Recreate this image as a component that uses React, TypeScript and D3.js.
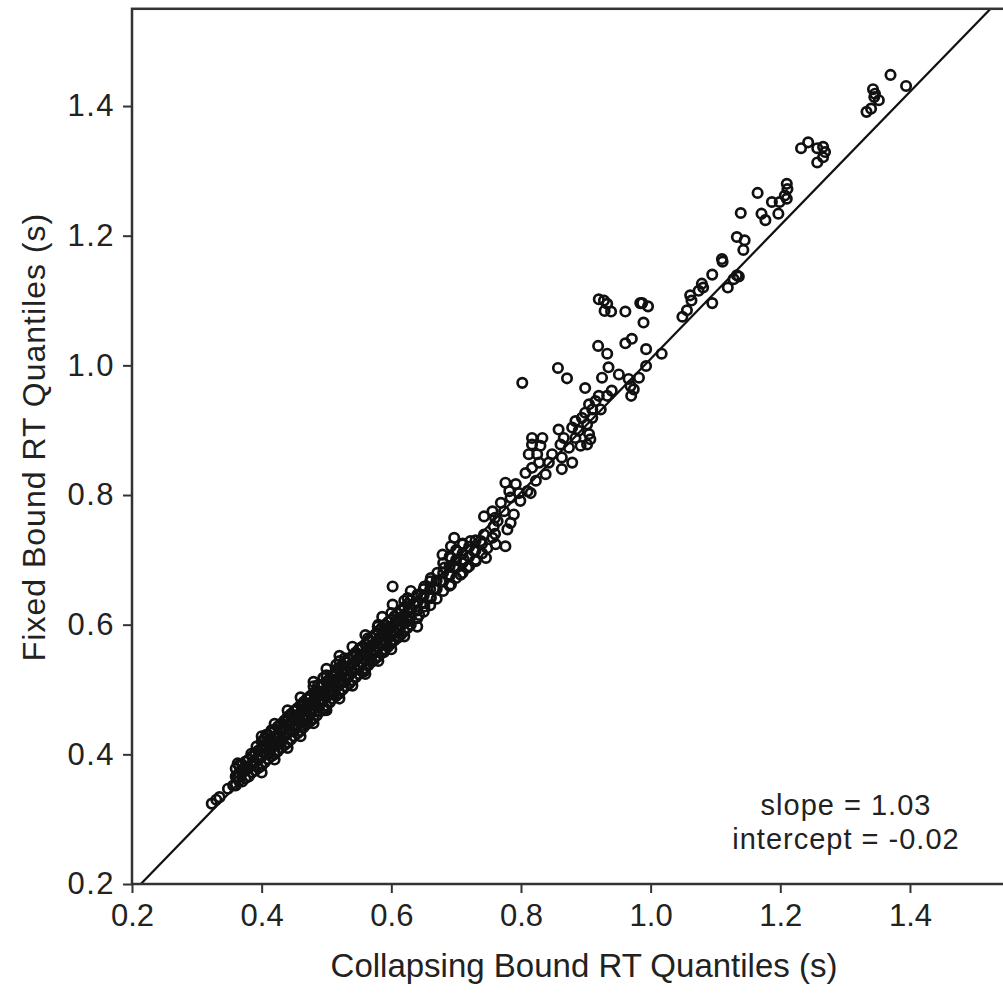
import React, { useRef, useEffect } from 'react';
import * as d3 from 'd3';

// [collapsing bound quantile, fixed bound quantile]
const lowBand: [number, number][] = [
  [0.323, 0.324], [0.33, 0.33], [0.335, 0.334], [0.348, 0.347], [0.356, 0.352],
  [0.363, 0.365], [0.363, 0.386], [0.371, 0.376], [0.379, 0.381], [0.384, 0.401],
  [0.387, 0.389], [0.394, 0.396], [0.402, 0.409], [0.42, 0.404], [0.415, 0.437],
  [0.412, 0.42], [0.425, 0.427], [0.433, 0.44], [0.438, 0.45], [0.446, 0.461],
  [0.453, 0.468], [0.463, 0.476], [0.474, 0.486], [0.484, 0.497], [0.494, 0.505],
  [0.497, 0.468], [0.407, 0.43], [0.392, 0.412], [0.443, 0.445], [0.458, 0.455],
  [0.469, 0.466], [0.479, 0.476], [0.489, 0.484], [0.505, 0.492], [0.51, 0.507],
];

const bandEdges: [number, number][] = [
  [0.40, 0.372], [0.40, 0.428], [0.42, 0.392], [0.42, 0.447], [0.44, 0.41], [0.44, 0.468],
  [0.46, 0.428], [0.46, 0.488], [0.48, 0.448], [0.48, 0.512], [0.50, 0.468], [0.50, 0.532],
  [0.52, 0.486], [0.52, 0.552], [0.54, 0.506], [0.54, 0.566], [0.56, 0.524], [0.56, 0.584],
  [0.58, 0.544], [0.58, 0.60], [0.60, 0.562], [0.60, 0.618], [0.62, 0.582], [0.62, 0.637],
];

const denseBand: [number, number][] = [
  [0.36, 0.352], [0.36, 0.366], [0.36, 0.378],
  [0.365, 0.359], [0.365, 0.371], [0.365, 0.383],
  [0.37, 0.358], [0.37, 0.372], [0.37, 0.384],
  [0.375, 0.363], [0.375, 0.377], [0.375, 0.389],
  [0.38, 0.366], [0.38, 0.379], [0.38, 0.392],
  [0.385, 0.372], [0.385, 0.384], [0.385, 0.397],
  [0.39, 0.375], [0.39, 0.388], [0.39, 0.402],
  [0.395, 0.379], [0.395, 0.392], [0.395, 0.406],
  [0.40, 0.382], [0.40, 0.396], [0.40, 0.41], [0.40, 0.42],
  [0.405, 0.388], [0.405, 0.401], [0.405, 0.414], [0.405, 0.425],
  [0.41, 0.393], [0.41, 0.405], [0.41, 0.418], [0.41, 0.43],
  [0.415, 0.397], [0.415, 0.41], [0.415, 0.422], [0.415, 0.434],
  [0.42, 0.40], [0.42, 0.414], [0.42, 0.426], [0.42, 0.438],
  [0.425, 0.405], [0.425, 0.418], [0.425, 0.431], [0.425, 0.443],
  [0.43, 0.41], [0.43, 0.423], [0.43, 0.436], [0.43, 0.447],
  [0.435, 0.414], [0.435, 0.428], [0.435, 0.44], [0.435, 0.452],
  [0.44, 0.418], [0.44, 0.432], [0.44, 0.445], [0.44, 0.458],
  [0.445, 0.423], [0.445, 0.436], [0.445, 0.45], [0.445, 0.462],
  [0.45, 0.428], [0.45, 0.44], [0.45, 0.454], [0.45, 0.467],
  [0.455, 0.432], [0.455, 0.445], [0.455, 0.458], [0.455, 0.471],
  [0.46, 0.436], [0.46, 0.45], [0.46, 0.463], [0.46, 0.476],
  [0.465, 0.442], [0.465, 0.455], [0.465, 0.468], [0.465, 0.481],
  [0.47, 0.447], [0.47, 0.46], [0.47, 0.472], [0.47, 0.486],
  [0.475, 0.451], [0.475, 0.464], [0.475, 0.477], [0.475, 0.49],
  [0.48, 0.455], [0.48, 0.47], [0.48, 0.483], [0.48, 0.495], [0.48, 0.505],
  [0.485, 0.46], [0.485, 0.474], [0.485, 0.487], [0.485, 0.499],
  [0.49, 0.466], [0.49, 0.478], [0.49, 0.492], [0.49, 0.504],
  [0.495, 0.47], [0.495, 0.483], [0.495, 0.496], [0.495, 0.508], [0.495, 0.518],
  [0.50, 0.475], [0.50, 0.489], [0.50, 0.50], [0.50, 0.512], [0.50, 0.522],
  [0.505, 0.48], [0.505, 0.493], [0.505, 0.505], [0.505, 0.517],
  [0.51, 0.486], [0.51, 0.498], [0.51, 0.51], [0.51, 0.522],
  [0.515, 0.49], [0.515, 0.503], [0.515, 0.515], [0.515, 0.527], [0.515, 0.538],
  [0.52, 0.494], [0.52, 0.507], [0.52, 0.52], [0.52, 0.533], [0.52, 0.544],
  [0.525, 0.50], [0.525, 0.512], [0.525, 0.525], [0.525, 0.537],
  [0.53, 0.505], [0.53, 0.518], [0.53, 0.53], [0.53, 0.542],
  [0.535, 0.509], [0.535, 0.522], [0.535, 0.535], [0.535, 0.547],
  [0.54, 0.514], [0.54, 0.527], [0.54, 0.54], [0.54, 0.552],
  [0.545, 0.519], [0.545, 0.531], [0.545, 0.544], [0.545, 0.557],
  [0.55, 0.524], [0.55, 0.536], [0.55, 0.549], [0.55, 0.562],
  [0.555, 0.528], [0.555, 0.541], [0.555, 0.553], [0.555, 0.566],
  [0.56, 0.532], [0.56, 0.546], [0.56, 0.558], [0.56, 0.57],
  [0.565, 0.538], [0.565, 0.55], [0.565, 0.562], [0.565, 0.575],
  [0.57, 0.543], [0.57, 0.555], [0.57, 0.567], [0.57, 0.58],
  [0.575, 0.547], [0.575, 0.56], [0.575, 0.572], [0.575, 0.585],
  [0.58, 0.551], [0.58, 0.565], [0.58, 0.577], [0.58, 0.59],
  [0.585, 0.556], [0.585, 0.569], [0.585, 0.582], [0.585, 0.595],
  [0.59, 0.562], [0.59, 0.574], [0.59, 0.587], [0.59, 0.60],
  [0.595, 0.566], [0.595, 0.579], [0.595, 0.591], [0.595, 0.604],
  [0.60, 0.571], [0.60, 0.584], [0.60, 0.596], [0.60, 0.608],
  [0.605, 0.576], [0.605, 0.589], [0.605, 0.601], [0.605, 0.613],
  [0.61, 0.58], [0.61, 0.594], [0.61, 0.606], [0.61, 0.617],
  [0.615, 0.585], [0.615, 0.598], [0.615, 0.61], [0.615, 0.622],
  [0.62, 0.59], [0.62, 0.603], [0.62, 0.615], [0.62, 0.627],
  [0.625, 0.595], [0.625, 0.607], [0.625, 0.62], [0.625, 0.632],
  [0.63, 0.60], [0.63, 0.612], [0.63, 0.625], [0.63, 0.638],
  [0.64, 0.61], [0.64, 0.622], [0.64, 0.634], [0.64, 0.646],
  [0.65, 0.62], [0.65, 0.633], [0.65, 0.645], [0.65, 0.655],
  [0.66, 0.63], [0.66, 0.642], [0.66, 0.655], [0.66, 0.667],
  [0.67, 0.64], [0.67, 0.655], [0.67, 0.668],
  [0.68, 0.652], [0.68, 0.667], [0.68, 0.68], [0.68, 0.695],
  [0.69, 0.66], [0.69, 0.675], [0.69, 0.69], [0.69, 0.705],
  [0.70, 0.672], [0.70, 0.688], [0.70, 0.70], [0.70, 0.715],
  [0.71, 0.68], [0.71, 0.695], [0.71, 0.71], [0.71, 0.725],
  [0.72, 0.69], [0.72, 0.705], [0.72, 0.72],
  [0.73, 0.70], [0.73, 0.715], [0.73, 0.73],
  [0.74, 0.71], [0.74, 0.725], [0.76, 0.74], [0.76, 0.765],
];

const midBand: [number, number][] = [
  [0.602, 0.659], [0.602, 0.631], [0.586, 0.612], [0.643, 0.615], [0.64, 0.597],
  [0.612, 0.582], [0.625, 0.605], [0.579, 0.597], [0.594, 0.595], [0.61, 0.60],
  [0.564, 0.579], [0.584, 0.582], [0.599, 0.574], [0.553, 0.564], [0.574, 0.561],
  [0.589, 0.558], [0.528, 0.548], [0.546, 0.551], [0.566, 0.546], [0.558, 0.528],
  [0.538, 0.538], [0.518, 0.533], [0.533, 0.52], [0.50, 0.52], [0.512, 0.52],
  [0.523, 0.51], [0.505, 0.505], [0.487, 0.507], [0.482, 0.494], [0.497, 0.492],
  [0.512, 0.494], [0.471, 0.486], [0.489, 0.481], [0.497, 0.471], [0.466, 0.471],
  [0.482, 0.466], [0.456, 0.461], [0.471, 0.455], [0.461, 0.445],
  [0.815, 0.803], [0.769, 0.788], [0.784, 0.796], [0.799, 0.791], [0.756, 0.775],
  [0.743, 0.767], [0.774, 0.775], [0.789, 0.77], [0.764, 0.76], [0.784, 0.757],
  [0.779, 0.747], [0.758, 0.752], [0.756, 0.734], [0.776, 0.721], [0.761, 0.724],
  [0.743, 0.739], [0.738, 0.729], [0.722, 0.729], [0.697, 0.734], [0.71, 0.724],
  [0.692, 0.721], [0.748, 0.718], [0.728, 0.713], [0.702, 0.713], [0.679, 0.708],
  [0.692, 0.703], [0.712, 0.70], [0.73, 0.698], [0.746, 0.703], [0.717, 0.688],
  [0.697, 0.69], [0.682, 0.688], [0.671, 0.68], [0.689, 0.677], [0.707, 0.677],
  [0.692, 0.662], [0.676, 0.667], [0.661, 0.672], [0.666, 0.656], [0.651, 0.659],
  [0.646, 0.646], [0.661, 0.641], [0.63, 0.652], [0.625, 0.641], [0.635, 0.631],
  [0.651, 0.628], [0.62, 0.626],
];

const upperBand: [number, number][] = [
  [0.92, 1.102], [0.928, 1.10], [0.933, 1.095], [0.929, 1.084], [0.939, 1.083],
  [0.961, 1.083], [0.984, 1.096], [0.919, 1.03], [0.933, 1.018], [0.961, 1.034],
  [0.971, 1.041], [0.857, 0.996], [0.871, 0.98], [0.802, 0.973], [0.899, 0.965],
  [0.935, 0.997], [0.925, 0.981], [0.951, 0.986], [0.966, 0.979], [0.982, 0.981],
  [0.969, 0.968], [0.974, 0.963], [0.97, 0.953], [0.94, 0.961], [0.933, 0.953],
  [0.92, 0.953], [0.915, 0.945], [0.905, 0.94], [0.91, 0.932], [0.923, 0.932],
  [0.899, 0.927], [0.894, 0.919], [0.91, 0.919], [0.884, 0.914], [0.902, 0.909],
  [0.858, 0.901], [0.879, 0.904], [0.889, 0.899], [0.905, 0.894], [0.907, 0.886],
  [0.902, 0.878], [0.892, 0.876], [0.884, 0.888], [0.866, 0.888], [0.861, 0.878],
  [0.874, 0.873], [0.817, 0.888], [0.833, 0.888], [0.817, 0.878], [0.83, 0.876],
  [0.812, 0.863], [0.825, 0.863], [0.848, 0.863], [0.863, 0.858], [0.879, 0.85],
  [0.843, 0.85], [0.828, 0.85], [0.863, 0.84], [0.817, 0.842], [0.807, 0.834],
  [0.838, 0.832], [0.823, 0.822], [0.776, 0.819], [0.792, 0.817], [0.782, 0.806],
  [0.797, 0.803], [0.81, 0.806],
];

const topBand: [number, number][] = [
  [1.232, 1.335], [1.243, 1.344], [1.257, 1.335], [1.266, 1.337], [1.269, 1.329],
  [1.266, 1.321], [1.257, 1.313], [1.21, 1.28], [1.211, 1.272], [1.207, 1.262],
  [1.21, 1.257], [1.199, 1.252], [1.187, 1.252], [1.197, 1.234], [1.165, 1.266],
  [1.171, 1.234], [1.177, 1.224], [1.139, 1.235], [1.133, 1.198], [1.145, 1.193],
  [1.143, 1.178], [1.11, 1.164], [1.111, 1.16], [1.133, 1.139], [1.136, 1.137],
  [1.128, 1.133], [1.119, 1.12], [1.095, 1.14], [1.095, 1.096], [1.079, 1.126],
  [1.081, 1.12], [1.074, 1.115], [1.061, 1.108], [1.063, 1.10], [1.056, 1.085],
  [1.049, 1.075], [0.987, 1.096], [0.996, 1.091], [0.989, 1.066], [0.993, 1.025],
  [1.017, 1.018], [0.993, 0.999],
  [1.37, 1.448], [1.394, 1.431], [1.343, 1.426], [1.346, 1.419], [1.345, 1.414],
  [1.352, 1.409], [1.34, 1.396], [1.333, 1.391],
];

const slope = 1.03;
const intercept = -0.02;
const ticks = [0.2, 0.4, 0.6, 0.8, 1.0, 1.2, 1.4];
const domain: [number, number] = [0.2, 1.55];

const App = () => {
  const svgRef = useRef<SVGSVGElement>(null);

  useEffect(() => {
    const width = 1003;
    const height = 998;
    const font = '"Liberation Sans", Arial, sans-serif';
    const ink = '#222';

    const x = d3.scaleLinear().domain(domain).range([132, 132 + 1.35 * 648.3]);
    const y = d3.scaleLinear().domain(domain).range([884, 884 - 1.35 * 648.3]);

    const svg = d3.select(svgRef.current);
    svg.selectAll('*').remove();
    svg.attr('width', width).attr('height', height).attr('viewBox', [0, 0, width, height]);

    svg.append('rect').attr('width', width).attr('height', height).attr('fill', 'white');

    const [x0, x1] = x.range();
    const [y0, y1] = y.range();

    svg.append('clipPath').attr('id', 'plot-clip')
      .append('rect').attr('x', x0).attr('y', y1).attr('width', x1 - x0).attr('height', y0 - y1);

    // regression line
    svg.append('line')
      .attr('clip-path', 'url(#plot-clip)')
      .attr('x1', x(domain[0])).attr('y1', y(slope * domain[0] + intercept))
      .attr('x2', x(domain[1])).attr('y2', y(slope * domain[1] + intercept))
      .attr('stroke', '#111').attr('stroke-width', 2.2);

    const points = [...lowBand, ...bandEdges, ...denseBand, ...midBand, ...upperBand, ...topBand];
    svg.append('g')
      .attr('fill', 'none')
      .attr('stroke', '#111')
      .attr('stroke-width', 2.7)
      .selectAll('circle')
      .data(points)
      .join('circle')
      .attr('cx', d => x(d[0]))
      .attr('cy', d => y(d[1]))
      .attr('r', 4.7);

    // frame
    svg.append('rect')
      .attr('x', x0).attr('y', y1).attr('width', x1 - x0).attr('height', y0 - y1)
      .attr('fill', 'none').attr('stroke', '#333').attr('stroke-width', 2.5);

    // x axis
    const xAxis = svg.append('g')
      .attr('transform', `translate(0,${y0})`)
      .call(d3.axisBottom(x).tickValues(ticks).tickFormat(d3.format('.1f')).tickSize(9).tickPadding(11).tickSizeOuter(0));
    xAxis.select('.domain').remove();
    xAxis.selectAll('line').attr('stroke', '#333').attr('stroke-width', 2);
    xAxis.selectAll('text')
      .attr('fill', ink).style('font-family', font).style('font-size', '31px');

    // y axis
    const yAxis = svg.append('g')
      .attr('transform', `translate(${x0},0)`)
      .call(d3.axisLeft(y).tickValues(ticks).tickFormat(d3.format('.1f')).tickSize(9).tickPadding(8).tickSizeOuter(0));
    yAxis.select('.domain').remove();
    yAxis.selectAll('line').attr('stroke', '#333').attr('stroke-width', 2);
    yAxis.selectAll('text')
      .attr('fill', ink).style('font-family', font).style('font-size', '31px')
      .style('letter-spacing', '1.5px');

    svg.append('text')
      .attr('x', 584).attr('y', 977)
      .attr('text-anchor', 'middle')
      .attr('fill', ink).style('font-family', font).style('font-size', '33px')
      .text('Collapsing Bound RT Quantiles (s)');

    svg.append('text')
      .attr('transform', `translate(45,437) rotate(-90)`)
      .attr('text-anchor', 'middle')
      .attr('fill', ink).style('font-family', font).style('font-size', '32px')
      .style('letter-spacing', '1px')
      .text('Fixed Bound RT Quantiles (s)');

    svg.append('text')
      .attr('x', 846).attr('y', 815)
      .attr('text-anchor', 'middle')
      .attr('fill', ink).style('font-family', font).style('font-size', '29px')
      .style('letter-spacing', '1px')
      .text(`slope = ${slope.toFixed(2)}`);

    svg.append('text')
      .attr('x', 846).attr('y', 849)
      .attr('text-anchor', 'middle')
      .attr('fill', ink).style('font-family', font).style('font-size', '29px')
      .style('letter-spacing', '1px')
      .text(`intercept = ${intercept.toFixed(2)}`);
  }, []);

  return (
    <div style={{ position: 'absolute', left: 0, top: 0 }}>
      <svg ref={svgRef}></svg>
    </div>
  );
};

export default App;
